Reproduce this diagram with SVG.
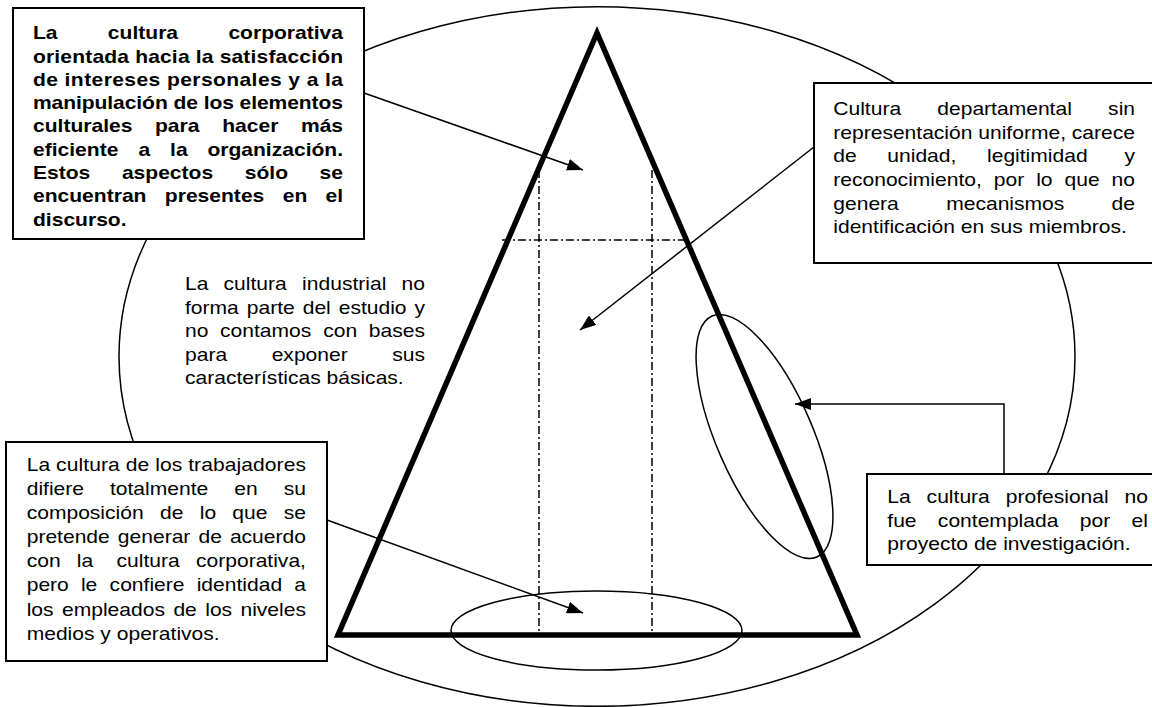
<svg xmlns="http://www.w3.org/2000/svg" width="1152" height="707" viewBox="0 0 1152 707">
  <style>
    .line { fill: none; stroke: #000; stroke-width: 1.5; }
    .tri { fill: none; stroke: #000; stroke-width: 5.5; stroke-linejoin: miter; }
    .dd { fill: none; stroke: #000; stroke-width: 1.5; stroke-dasharray: 8 3 2 3; }
    .box { fill: #fff; stroke: #000; stroke-width: 2; }
    .conn { fill: none; stroke: #000; stroke-width: 1.5; marker-end: url(#arrow); }
    text { font-family: "Liberation Sans", Arial, sans-serif; font-size: 18px; fill: #000; }
    .b text { font-weight: bold; }
    .e { text-anchor: end; }
  </style>
  <defs>
    <marker id="arrow" markerUnits="userSpaceOnUse" markerWidth="17" markerHeight="12" refX="16" refY="6" orient="auto">
      <path d="M0,0 L16,6 L0,12 z" fill="#000"/>
    </marker>
  </defs>

  <rect width="1152" height="707" fill="#fff"/>

  <!-- outer culture ellipse, pyramid and its divisions -->
  <g id="figure">
    <ellipse class="line" cx="597" cy="356.5" rx="478" ry="349.8"/>
    <polygon class="tri" points="597,33 338,635 857,635"/>
    <line class="dd" x1="539" y1="170" x2="539" y2="633"/>
    <line class="dd" x1="652" y1="170" x2="652" y2="633"/>
    <line class="dd" x1="502" y1="240" x2="684" y2="240"/>
    <ellipse class="line" cx="596.5" cy="630.5" rx="145.5" ry="39.5"/>
    <ellipse class="line" cx="0" cy="0" rx="131.4" ry="48" transform="translate(764.5 436.5) rotate(66.5)"/>
  </g>

  <!-- arrows from the notes -->
  <g id="connectors">
    <line class="conn" x1="364" y1="93" x2="583" y2="170"/>
    <line class="conn" x1="814" y1="147" x2="580" y2="330"/>
    <line class="conn" x1="327" y1="520" x2="583" y2="613"/>
    <path class="conn" d="M1004,474 V404 H795"/>
  </g>

  <!-- corporate culture note -->
  <g id="note-corporativa" class="b">
    <rect class="box" x="13" y="8" width="351" height="231"/>
    <g transform="scale(1.17 1)">
      <text y="39.3"><tspan x="28.2">La</tspan><tspan x="92.2">cultura</tspan><tspan x="293.2" class="e">corporativa</tspan></text>
      <text x="28.2" y="62.6" textLength="265" lengthAdjust="spacing">orientada hacia la satisfacción</text>
      <text x="28.2" y="85.9" textLength="265" lengthAdjust="spacing">de intereses personales y a la</text>
      <text x="28.2" y="109.2" textLength="265" lengthAdjust="spacing">manipulación de los elementos</text>
      <text y="132.5"><tspan x="28.2">culturales</tspan><tspan x="132.5">para</tspan><tspan x="189.9">hacer</tspan><tspan x="293.2" class="e">más</tspan></text>
      <text y="155.8"><tspan x="28.2">eficiente</tspan><tspan x="118.3">a</tspan><tspan x="145.4">la</tspan><tspan x="293.2" class="e">organización.</tspan></text>
      <text y="179.1"><tspan x="28.2">Estos</tspan><tspan x="104.2">aspectos</tspan><tspan x="209.2">sólo</tspan><tspan x="293.2" class="e">se</tspan></text>
      <text y="202.4"><tspan x="28.2">encuentran</tspan><tspan x="140.9">presentes</tspan><tspan x="241.6">en</tspan><tspan x="293.2" class="e">el</tspan></text>
      <text x="28.2" y="225.7">discurso.</text>
    </g>
  </g>

  <!-- departmental culture note -->
  <g id="note-departamental">
    <rect class="box" x="814" y="83" width="360" height="180"/>
    <g transform="scale(1.17 1)">
      <text y="115"><tspan x="712.2">Cultura</tspan><tspan x="801.1">departamental</tspan><tspan x="970.1" class="e">sin</tspan></text>
      <text x="712.2" y="138.7" textLength="257.9" lengthAdjust="spacing">representación uniforme, carece</text>
      <text y="162.4"><tspan x="712.2">de</tspan><tspan x="758.4">unidad,</tspan><tspan x="843.6">legitimidad</tspan><tspan x="970.1" class="e">y</tspan></text>
      <text y="186.1"><tspan x="712.2">reconocimiento,</tspan><tspan x="849.4">por</tspan><tspan x="885.6">lo</tspan><tspan x="909.8">que</tspan><tspan x="970.1" class="e">no</tspan></text>
      <text y="209.8"><tspan x="712.2">genera</tspan><tspan x="808.7">mecanismos</tspan><tspan x="970.1" class="e">de</tspan></text>
      <text x="712.2" y="233.5">identificación en sus miembros.</text>
    </g>
  </g>

  <!-- industrial culture note (no frame) -->
  <g id="note-industrial">
    <g transform="scale(1.17 1)">
      <text y="290"><tspan x="158.1">La</tspan><tspan x="191.1">cultura</tspan><tspan x="258.2">industrial</tspan><tspan x="363.2" class="e">no</tspan></text>
      <text y="313.6"><tspan x="158.1">forma</tspan><tspan x="210.9">parte</tspan><tspan x="258.7">del</tspan><tspan x="289.5">estudio</tspan><tspan x="363.2" class="e">y</tspan></text>
      <text y="337.2"><tspan x="158.1">no</tspan><tspan x="188.1">contamos</tspan><tspan x="276.2">con</tspan><tspan x="363.2" class="e">bases</tspan></text>
      <text y="360.8"><tspan x="158.1">para</tspan><tspan x="232.2">exponer</tspan><tspan x="363.2" class="e">sus</tspan></text>
      <text x="158.1" y="384.4">características básicas.</text>
    </g>
  </g>

  <!-- workers' culture note -->
  <g id="note-trabajadores">
    <rect class="box" x="6" y="442" width="321" height="219"/>
    <g transform="scale(1.17 1)">
      <text x="22.8" y="471" textLength="238.7" lengthAdjust="spacing">La cultura de los trabajadores</text>
      <text y="495.1"><tspan x="22.8">difiere</tspan><tspan x="94">totalmente</tspan><tspan x="200.2">en</tspan><tspan x="261.5" class="e">su</tspan></text>
      <text y="519.2"><tspan x="22.8">composición</tspan><tspan x="136.7">de</tspan><tspan x="170.7">lo</tspan><tspan x="198.6">que</tspan><tspan x="261.5" class="e">se</tspan></text>
      <text y="543.3"><tspan x="22.8">pretende</tspan><tspan x="100.7">generar</tspan><tspan x="169.6">de</tspan><tspan x="261.5" class="e">acuerdo</tspan></text>
      <text y="567.4"><tspan x="22.8">con</tspan><tspan x="65.7">la</tspan><tspan x="99.6">cultura</tspan><tspan x="261.5" class="e">corporativa,</tspan></text>
      <text y="591.5"><tspan x="22.8">pero</tspan><tspan x="69.2">le</tspan><tspan x="93.7">confiere</tspan><tspan x="168.1">identidad</tspan><tspan x="261.5" class="e">a</tspan></text>
      <text y="615.6"><tspan x="22.8">los</tspan><tspan x="53">empleados</tspan><tspan x="148.2">de</tspan><tspan x="175.4">los</tspan><tspan x="261.5" class="e">niveles</tspan></text>
      <text x="22.8" y="639.7">medios y operativos.</text>
    </g>
  </g>

  <!-- professional culture note -->
  <g id="note-profesional">
    <rect class="box" x="867" y="474" width="310" height="91"/>
    <g transform="scale(1.17 1)">
      <text y="503.3"><tspan x="758.4">La</tspan><tspan x="792">cultura</tspan><tspan x="859.6">profesional</tspan><tspan x="981.2" class="e">no</tspan></text>
      <text y="526.8"><tspan x="758.4">fue</tspan><tspan x="801.6">contemplada</tspan><tspan x="922.9">por</tspan><tspan x="981.2" class="e">el</tspan></text>
      <text x="758.4" y="550.3">proyecto de investigación.</text>
    </g>
  </g>
</svg>
